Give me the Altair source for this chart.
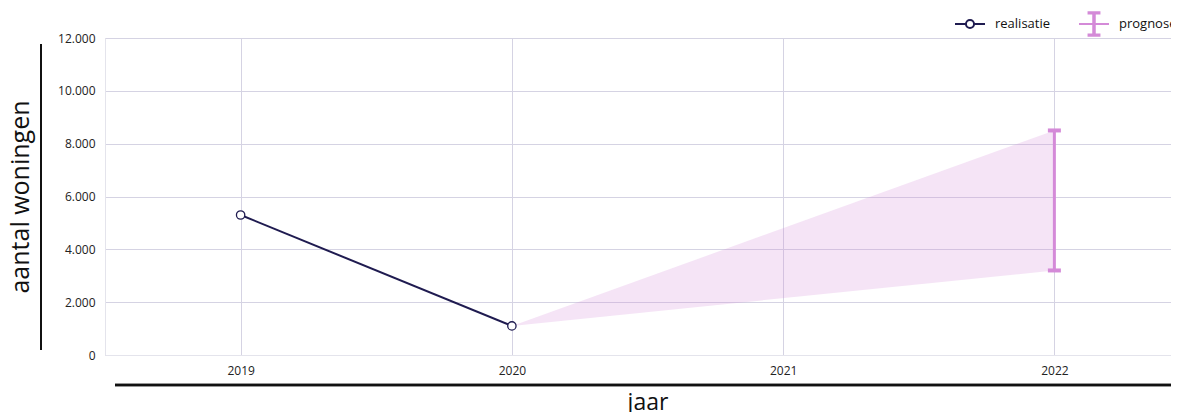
import altair as alt
import pandas as pd

# realisatie
years_real = [2019, 2020]
values_real = [5300, 1100]

# prognose band (from last realisatie to forecast range)
band_years = [2020, 2022]
band_low = [1100, 3200]
band_high = [1100, 8500]

# prognose range
prog_year = [2022]
prog_low = [3200]
prog_high = [8500]

x_ticks = [2019, 2020, 2021, 2022]
y_ticks = [0, 2000, 4000, 6000, 8000, 10000, 12000]
series = ["realisatie", "prognose"]

NAVY = "#1f1b50"
PINK = "#d48ad8"
GRID = "#d5d3e3"
FRAME = "#e4e4ec"
FONT = "Open Sans"

PLOT_W = 1085   # full plot width (partly outside the window, as in the original)
VIEW_W = 1066   # visible part

real_df = pd.DataFrame({"jaar": years_real, "waarde": values_real})
band_df = pd.DataFrame({"jaar": band_years, "laag": band_low, "hoog": band_high})
prog_df = pd.DataFrame({"jaar": prog_year, "laag": prog_low, "hoog": prog_high})
leg_df = pd.DataFrame({"serie": series, "jaar": [2019, 2019], "waarde": [0, 0]})

x_enc = alt.X(
    "jaar:Q",
    scale=alt.Scale(domain=[2018.5, 2022.5], nice=False, zero=False,
                    range=[0, PLOT_W]),
    axis=alt.Axis(
        values=x_ticks, format="d", title="jaar", grid=True, ticks=False,
        domain=True, domainColor=FRAME, labelPadding=10, titlePadding=15,
        titleFontSize=23, titleFontWeight="normal", titleColor="#111111",
        labelFontSize=12, labelColor="#222222", gridColor=GRID,
        labelFont=FONT, titleFont=FONT,
    ),
)
y_scale = alt.Scale(domain=[0, 12000], nice=False)
y_axis = alt.Axis(
    values=y_ticks, title="aantal woningen", ticks=False, domain=True,
    domainColor=FRAME,
    labelExpr="replace(format(datum.value, ','), ',', '.')",
    labelPadding=10, titlePadding=24, titleFontSize=25, titleFontWeight="normal",
    titleColor="#111111", labelFontSize=12, labelColor="#222222",
    gridColor=GRID, labelFont=FONT, titleFont=FONT,
)

area = alt.Chart(band_df).mark_area(color=PINK, opacity=0.23).encode(
    x=x_enc,
    y=alt.Y("laag:Q", scale=y_scale, axis=y_axis),
    y2="hoog:Q",
)

line = alt.Chart(real_df).mark_line(color=NAVY, strokeWidth=2).encode(
    x="jaar:Q", y="waarde:Q"
)
points = alt.Chart(real_df).mark_point(
    shape="circle", size=70, filled=True, fill="white", stroke=NAVY,
    strokeWidth=1.3, opacity=1
).encode(x="jaar:Q", y="waarde:Q")

err_rule = alt.Chart(prog_df).mark_rule(color=PINK, strokeWidth=3).encode(
    x="jaar:Q", y="laag:Q", y2="hoog:Q"
)
cap_low = alt.Chart(prog_df).mark_tick(
    color=PINK, orient="horizontal", size=13, thickness=4, opacity=1
).encode(x="jaar:Q", y="laag:Q")
cap_high = alt.Chart(prog_df).mark_tick(
    color=PINK, orient="horizontal", size=13, thickness=4, opacity=1
).encode(x="jaar:Q", y="hoog:Q")

real_sym = (
    "M0,-0.8M0,0.8 "
    "M-1,0H-0.27 M0.27,0H1 "
    "M0.27,0A0.27,0.27 0 1,1 -0.27,0A0.27,0.27 0 1,1 0.27,0"
)
prog_sym = (
    "M0,-0.8M0,0.8 "
    "M-1,0H1 M0,-0.78V0.78 M0.05,-0.78V0.78 M-0.05,-0.78V0.78 "
    "M-0.43,-0.78H0.43 M-0.43,-0.7H0.43 M-0.43,0.78H0.43 M-0.43,0.7H0.43"
)

leg = alt.Legend(
    title=None, orient="none", legendX=849, legendY=-30,
    direction="horizontal", symbolSize=900, symbolStrokeWidth=2,
    symbolOpacity=1, labelFontSize=13, labelFont=FONT,
    labelColor="#111111", columnPadding=24, labelOffset=9,
)

legend_layer = alt.Chart(leg_df).mark_point(opacity=0, filled=False, size=900).encode(
    x="jaar:Q",
    y="waarde:Q",
    color=alt.Color("serie:N", scale=alt.Scale(domain=series, range=[NAVY, PINK]),
                    legend=leg),
    shape=alt.Shape("serie:N", scale=alt.Scale(domain=series, range=[real_sym, prog_sym]),
                    legend=leg),
)

# decorative axis lines
v_line = alt.Chart(real_df).mark_rule(color="#111111", strokeWidth=2).encode(
    x=alt.value(-64), y=alt.value(6), y2=alt.value(312)
)
h_line = alt.Chart(real_df).mark_rule(color="#111111", strokeWidth=2.5).encode(
    x=alt.value(10), x2=alt.value(PLOT_W), y=alt.value(347)
)

chart = (
    alt.layer(area, line, points, err_rule, cap_low, cap_high, legend_layer,
              v_line, h_line)
    .properties(
        width=VIEW_W, height=317,
        autosize=alt.AutoSizeParams(type="none"),
        padding={"left": 97, "top": 30, "right": 0, "bottom": 60},
    )
    .configure_view(strokeWidth=0)
    .configure(font=FONT)
)

chart.save("out.html", embed_options={"renderer": "svg", "actions": False})
